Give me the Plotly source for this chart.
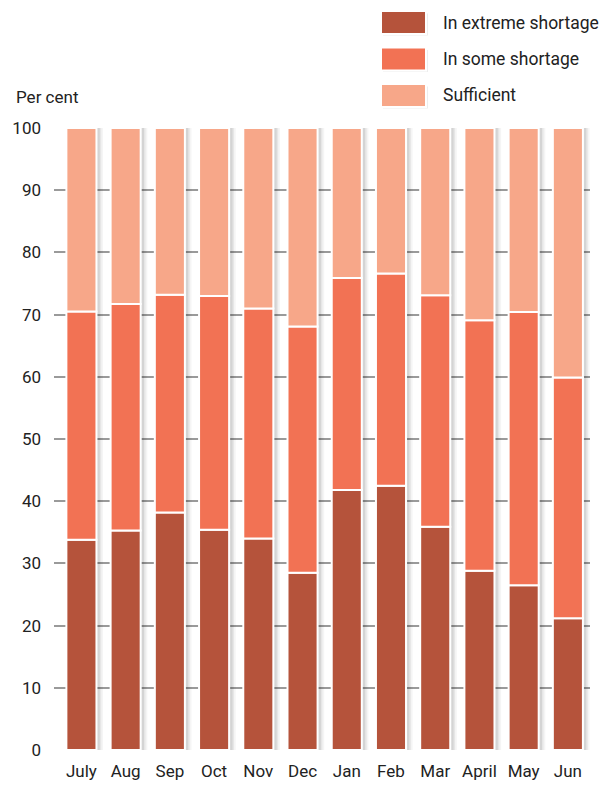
import plotly.graph_objects as go

months = ["July", "Aug", "Sep", "Oct", "Nov", "Dec", "Jan", "Feb", "Mar", "April", "May", "Jun"]
extreme = [33.8, 35.3, 38.2, 35.4, 34.0, 28.5, 41.8, 42.5, 35.9, 28.8, 26.5, 21.2]
some = [36.7, 36.4, 35.0, 37.6, 37.0, 39.6, 34.1, 34.1, 37.2, 40.3, 43.9, 38.7]
sufficient = [29.5, 28.3, 26.8, 27.0, 29.0, 31.9, 24.1, 23.4, 26.9, 30.9, 29.6, 40.1]
y_ticks = [0, 10, 20, 30, 40, 50, 60, 70, 80, 90, 100]

series_names = ["In extreme shortage", "In some shortage", "Sufficient"]
colors = ["#B5533B", "#F27254", "#F7A789"]
FONT = "Roboto, Liberation Sans, sans-serif"
FS = 17

x = list(range(len(months)))
bar_w = 0.68
totals = [a + b + c for a, b, c in zip(extreme, some, sufficient)]

fig = go.Figure()

# soft drop shadow behind each column
for dx, extra, alpha in [(0.05, 0.16, 0.04), (0.04, 0.10, 0.06), (0.03, 0.05, 0.08)]:
    fig.add_trace(go.Bar(
        x=x, y=totals, base=[0] * len(x), width=bar_w + extra,
        offset=-bar_w / 2 + dx - extra / 2 + 0.02,
        marker=dict(color=f"rgba(0,0,0,{alpha})", line=dict(width=0)),
        showlegend=False, hoverinfo="skip",
    ))

bases = [0] * len(x)
for name, vals, col in zip(series_names, [extreme, some, sufficient], colors):
    fig.add_trace(go.Bar(
        x=x, y=vals, base=list(bases), width=bar_w, name=name,
        marker=dict(color=col, line=dict(color="white", width=2)),
        showlegend=False,
    ))
    bases = [b + v for b, v in zip(bases, vals)]

# legend drawn as large swatches with labels
PL, PB, PW, PH, H = 54, 37, 536, 622, 787
shapes = []
annotations = []
for i, (name, col) in enumerate(zip(series_names, colors)):
    yc = 22.5 + i * 36.5
    # faint shadow under the swatch
    shapes.append(dict(type="rect", xref="paper", yref="paper",
                       x0=(383 - PL) / PW, x1=(428 - PL) / PW,
                       y0=(H - PB - (yc + 13)) / PH, y1=(H - PB - (yc - 9)) / PH,
                       fillcolor="rgba(0,0,0,0.07)", line=dict(width=0)))
    shapes.append(dict(type="rect", xref="paper", yref="paper",
                       x0=(381 - PL) / PW, x1=(426 - PL) / PW,
                       y0=(H - PB - (yc + 11.5)) / PH, y1=(H - PB - (yc - 11.5)) / PH,
                       fillcolor=col, line=dict(color="white", width=2)))
    annotations.append(dict(xref="paper", yref="paper", x=(441 - PL) / PW,
                            y=(H - PB - yc) / PH, text=name, showarrow=False,
                            xanchor="left", yanchor="middle",
                            font=dict(family=FONT, size=FS + 0.5, color="#222")))

annotations.append(dict(xref="paper", yref="paper", x=(14 - PL) / PW,
                        y=(H - PB - 97) / PH, text="Per cent", showarrow=False,
                        xanchor="left", yanchor="middle",
                        font=dict(family=FONT, size=FS, color="#222")))

fig.update_layout(
    width=607, height=787,
    margin=dict(l=PL, r=17, t=128, b=PB),
    barmode="overlay",
    plot_bgcolor="white", paper_bgcolor="white",
    shapes=shapes, annotations=annotations,
    font=dict(family=FONT, size=FS, color="#222"),
    xaxis=dict(tickmode="array", tickvals=x, ticktext=months,
               range=[-0.62, 11.5], showgrid=False, zeroline=False,
               showline=False, ticks="", ticklabelstandoff=9,
               automargin=False, tickfont=dict(size=FS)),
    yaxis=dict(range=[0, 100], tickvals=y_ticks, showgrid=True,
               gridcolor="#9a9a9a", gridwidth=2, zeroline=False,
               showline=False, ticks="", ticklabelstandoff=12,
               automargin=False, tickfont=dict(size=FS)),
)

fig.write_html("out.html")
